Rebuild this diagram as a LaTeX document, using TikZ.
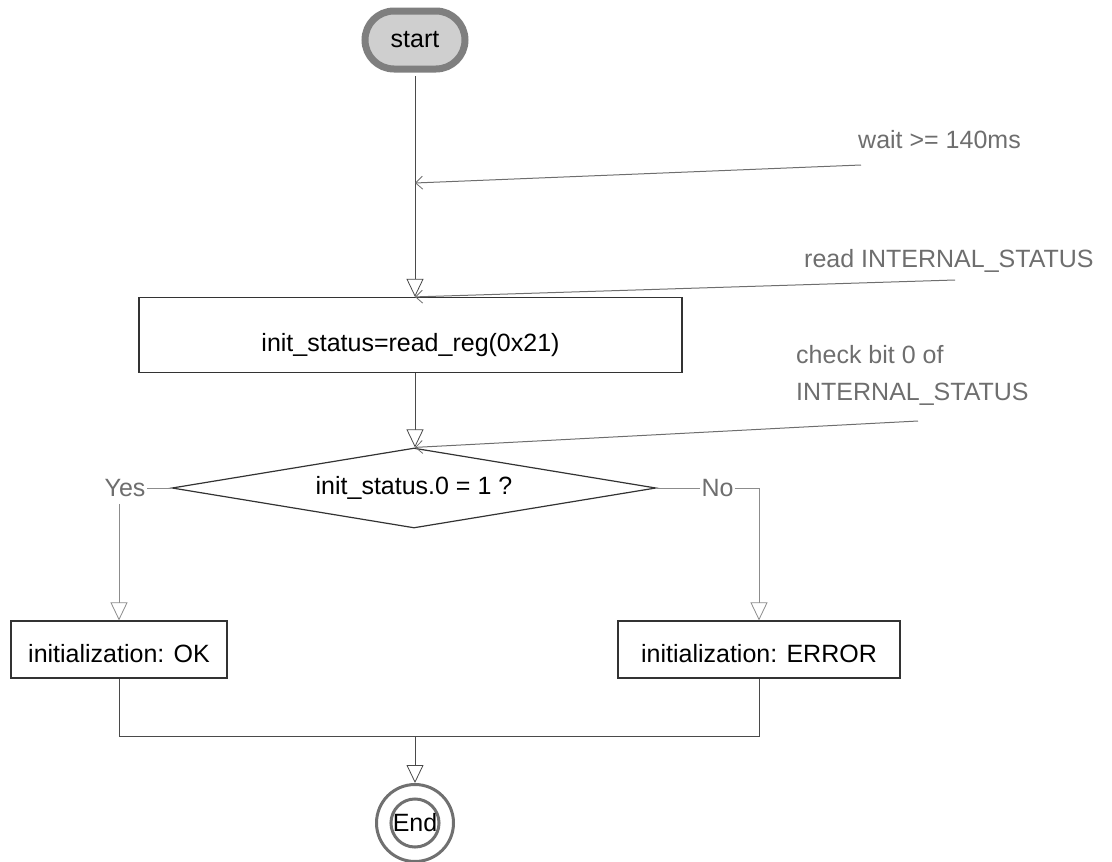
\documentclass[tikz,border=0pt]{standalone}
\usepackage{fontspec}
\setmainfont{Liberation Sans}
\usetikzlibrary{arrows.meta,shapes.geometric}
\definecolor{linecol}{HTML}{4A4A4A}
\definecolor{lightline}{HTML}{8C8C8C}
\definecolor{notecol}{HTML}{6E6E6E}
\definecolor{boxcol}{HTML}{333333}
\definecolor{startborder}{HTML}{7F7F7F}
\definecolor{startfill}{HTML}{CFCFCF}
\definecolor{endcol}{HTML}{707070}
\begin{document}
\begin{tikzpicture}[x=1pt,y=-1pt,
  font=\fontsize{25}{30}\selectfont,
  flow/.style={draw=linecol, line width=1pt},
  flowlight/.style={draw=lightline, line width=1pt},
  noteline/.style={draw=notecol, line width=1pt},
  tri/.style={-{Triangle[length=18pt,width=17pt,fill=white,line width=0.8pt]}},
  barb/.style={-{Straight Barb[length=7pt,width=13pt,line width=0.8pt]}},
  startbox/.style={draw=startborder, line width=7pt, fill=startfill, rounded corners=29pt,
     minimum width=100pt, minimum height=58pt, inner sep=0pt, text=black},
  proc/.style={draw=boxcol, line width=1.2pt, fill=white, inner sep=0pt, minimum height=57pt,
     text height=26pt, text=black},
  note/.style={text=notecol, inner sep=0pt},
  lbl/.style={text=notecol, fill=white, inner xsep=1pt, inner ysep=7pt},
  endring/.style={circle, draw=endcol, line width=3pt, inner sep=0pt},
]
\useasboundingbox (0,0) rectangle (1112,862);

% nodes
\node[startbox] (start) at (415,40) {start};
\node[note, anchor=west] (wait) at (858,140) {wait >= 140ms};
\node[note, anchor=base west] (read) at (804,267) {read INTERNAL\_STATUS};
\node[note, anchor=north west, align=left, font=\fontsize{25}{37}\selectfont] (check) at (796,345) {check bit 0 of\\INTERNAL\_STATUS};

\node[proc, minimum width=543pt, minimum height=75pt, text height=39pt] (b1) at (410.5,335) {init\_status=read\_reg(0x21)};
\node[diamond, draw=boxcol, line width=1.2pt, aspect=6, minimum width=484pt, minimum height=80pt, inner sep=0pt] (d) at (414,488) {init\_status.0 = 1 ?};

\node[lbl] (yes) at (125,488) {Yes};
\node[lbl] (no) at (717.5,488) {No};

\node[proc, minimum width=216pt] (ok) at (119,649.5) {initialization: OK};
\node[proc, minimum width=282pt] (err) at (759,649.5) {initialization: ERROR};

\node[endring, minimum size=77pt] (end) at (415,823) {};
\node[endring, minimum size=48pt, text=black] (endin) at (415,823) {End};

% helper coordinates
\coordinate (wend) at (861,165);
\coordinate (wtip) at (415,183);
\coordinate (rend) at (955,280);
\coordinate (cend) at (918,421);
\coordinate (join) at (415,736);

% connectors
\draw[flow, tri] ([yshift=-3.5pt]start.south) -- (start.south |- b1.north);
\draw[noteline, barb] (wend) -- (wtip);
\draw[noteline, barb] (rend) -- (start.south |- b1.north);
\draw[flow, tri] (start.south |- b1.south) -- (start.south |- d.north);
\draw[noteline, barb] (cend) -- (start.south |- d.north);

\draw[flowlight] (d.west) -- (yes.east);
\draw[flowlight, tri] (ok.north |- yes.south) -- (ok.north);
\draw[flowlight] (d.east) -- (no.west);
\draw[flowlight, tri] (no.east) -| (err.north);

\draw[flow] (ok.south) -- (ok.south |- join) -- (err.south |- join) -- (err.south);
\draw[flow, tri] (join) -- (end.north);
\end{tikzpicture}
\end{document}
